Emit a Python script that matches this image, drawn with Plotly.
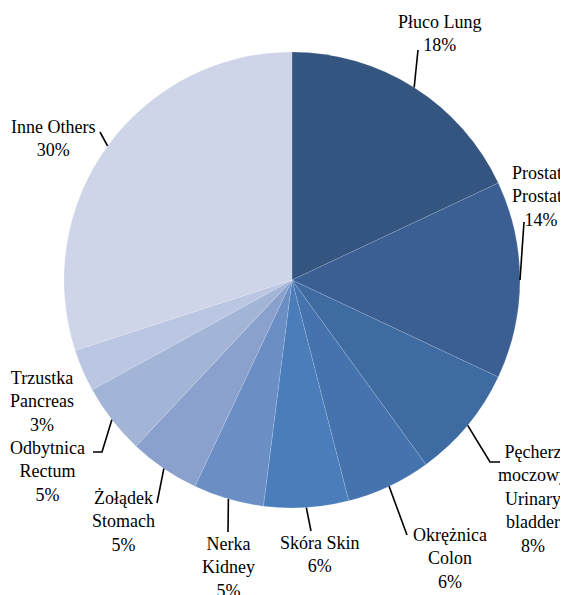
import math
import plotly.graph_objects as go

# ---- data ----
labels_pl = ["Płuco", "Prostata", "Pęcherz moczowy", "Okrężnica", "Skóra",
             "Nerka", "Żołądek", "Odbytnica", "Trzustka", "Inne"]
labels_en = ["Lung", "Prostate", "Urinary bladder", "Colon", "Skin",
             "Kidney", "Stomach", "Rectum", "Pancreas", "Others"]
values = [18, 14, 8, 6, 6, 5, 5, 5, 3, 30]

# ---- style ----
colors = ["#34557F", "#3B5F93", "#3F6BA3", "#4573AE", "#4A7DBA",
          "#6B8FC5", "#8AA1CD", "#A3B5D7", "#BAC6E2", "#CFD5E8"]
W, H = 568, 595
OFF = 8  # page body margin
CX, CY, R = 292 - OFF, 280 - OFF, 228

# label text lines (as shown in the reference)
label_text = [
    "Płuco Lung<br>18%",
    "Prostata<br>Prostate<br>14%",
    "Pęcherz<br>moczowy<br>Urinary<br>bladder<br>8%",
    "Okrężnica<br>Colon<br>6%",
    "Skóra Skin<br>6%",
    "Nerka<br>Kidney<br>5%",
    "Żołądek<br>Stomach<br>5%",
    "Odbytnica<br>Rectum<br>5%",
    "Trzustka<br>Pancreas<br>3%",
    "Inne Others<br>30%",
]
# label block centre (px, page coords) and leader-line bends (px, excluding start on pie edge)
label_center = [(440, 34), (541, 196), (533, 499), (450, 558), (320, 554),
                (228, 567), (123, 521), (47, 471), (42, 401), (53, 138)]
leader = [[(418, 50)], [(524, 222)], [(490, 462), (500, 462)], [(407, 535)],
          [(311, 531)], [(228, 532)], [(157, 503)], [(102, 452), (93, 452)],
          None, [(100, 132)]]

fig = go.Figure(go.Pie(
    labels=[f"{a} {b}" for a, b in zip(labels_pl, labels_en)],
    values=values,
    sort=False,
    direction="clockwise",
    rotation=0,
    marker=dict(colors=colors, line=dict(color="rgba(255,255,255,0.22)", width=0.6)),
    textinfo="none",
    hoverinfo="label+percent",
    domain=dict(x=[(CX - R) / W, (CX + R) / W], y=[1 - (CY + R) / H, 1 - (CY - R) / H]),
    showlegend=False,
))

def px(x, y):
    return x / W, 1 - y / H

total = sum(values)
cum = 0
shapes = []
annotations = []
for i, v in enumerate(values):
    mid = (cum + v / 2) / total * 2 * math.pi
    cum += v
    sx = CX + R * math.sin(mid)
    sy = CY - R * math.cos(mid)
    if leader[i]:
        pts = [(sx, sy)] + [(x - OFF, y - OFF) for x, y in leader[i]]
        path = "M " + " L ".join(f"{px(x, y)[0]:.5f},{px(x, y)[1]:.5f}" for x, y in pts)
        shapes.append(dict(type="path", xref="paper", yref="paper", path=path,
                           line=dict(color="black", width=1.6)))
    lx, ly = px(label_center[i][0] - OFF, label_center[i][1] - OFF)
    annotations.append(dict(x=lx, y=ly, xref="paper", yref="paper", text=label_text[i],
                            showarrow=False, xanchor="center", yanchor="middle",
                            align="center",
                            font=dict(family="Liberation Serif, Times New Roman, serif",
                                      size=18, color="black")))

fig.update_layout(
    width=W, height=H,
    margin=dict(l=0, r=0, t=0, b=0),
    paper_bgcolor="white", plot_bgcolor="white",
    shapes=shapes, annotations=annotations,
)
fig.write_html("out.html")
